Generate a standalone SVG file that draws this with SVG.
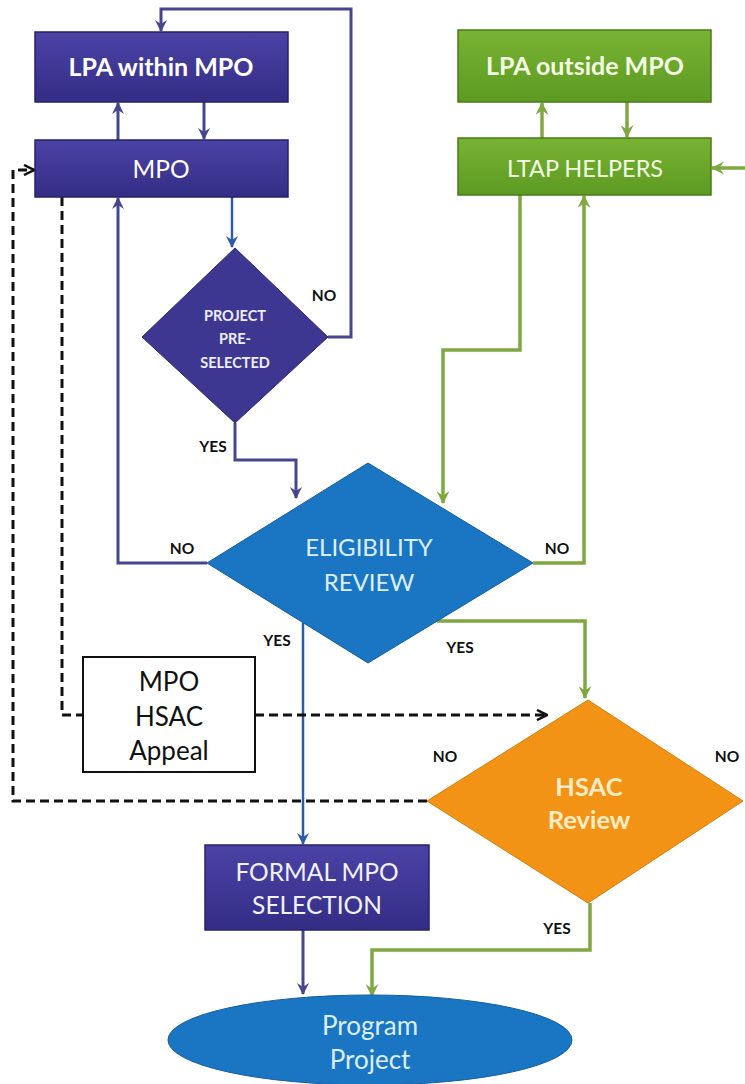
<svg xmlns="http://www.w3.org/2000/svg" width="745" height="1084" viewBox="0 0 745 1084">
<style>
.t{font-family:Lato,"Open Sans","Liberation Sans",sans-serif;text-anchor:middle}
.lbl{font-family:Lato,"Open Sans","Liberation Sans",sans-serif;font-size:15.5px;font-weight:700;fill:#111;text-anchor:middle}
.pur{fill:url(#gPur);stroke:#272266;stroke-width:1.5}
.grn{fill:url(#gGrn);stroke:#4a7a18;stroke-width:1.5}
.cp{fill:none;stroke:#46468e;stroke-width:3}
.cb{fill:none;stroke:#2f5aa8;stroke-width:2.5}
.cg{fill:none;stroke:#80a842;stroke-width:3.5}
.cd{fill:none;stroke:#111;stroke-width:3;stroke-dasharray:9 5}
</style>
<defs>
<linearGradient id="gPur" x1="0" y1="0" x2="0" y2="1"><stop offset="0" stop-color="#4a43a6"/><stop offset="1" stop-color="#342d85"/></linearGradient>
<linearGradient id="gGrn" x1="0" y1="0" x2="0" y2="1"><stop offset="0" stop-color="#78b332"/><stop offset="1" stop-color="#5c9a22"/></linearGradient>
<marker id="aP" viewBox="0 0 12 12" refX="11" refY="6" markerWidth="12" markerHeight="12" markerUnits="userSpaceOnUse" orient="auto"><path d="M0,0 L12,6 L0,12 L4,6 Z" fill="#46468e"/></marker>
<marker id="aB" viewBox="0 0 12 12" refX="11" refY="6" markerWidth="12" markerHeight="12" markerUnits="userSpaceOnUse" orient="auto"><path d="M0,0 L12,6 L0,12 L4,6 Z" fill="#2f5aa8"/></marker>
<marker id="aG" viewBox="0 0 12 12" refX="11" refY="6" markerWidth="13" markerHeight="13" markerUnits="userSpaceOnUse" orient="auto"><path d="M0,0 L12,6 L0,12 L4,6 Z" fill="#80a842"/></marker>
<marker id="aD" viewBox="0 0 12 12" refX="11" refY="6" markerWidth="12" markerHeight="12" markerUnits="userSpaceOnUse" orient="auto"><path d="M1,1 L11,6 L1,11" fill="none" stroke="#111" stroke-width="2.5"/></marker>
</defs>

<g id="connectors">
<polyline class="cp" points="328,337 351,337 351,9 161,9 161,31" marker-end="url(#aP)"/>
<line class="cp" x1="118" y1="140" x2="118" y2="103" marker-end="url(#aP)"/>
<line class="cp" x1="204" y1="102" x2="204" y2="139" marker-end="url(#aP)"/>
<line class="cb" x1="232" y1="197" x2="232" y2="247" marker-end="url(#aB)"/>
<polyline class="cp" points="235,423 235,460 296,460 296,498" marker-end="url(#aP)"/>
<polyline class="cp" points="207,563 118,563 118,198" marker-end="url(#aP)"/>
<line class="cb" x1="303" y1="623" x2="303" y2="844" marker-end="url(#aB)"/>
<line class="cp" x1="303" y1="930" x2="303" y2="994" marker-end="url(#aP)"/>
<line class="cg" x1="542" y1="138" x2="542" y2="103" marker-end="url(#aG)"/>
<line class="cg" x1="627" y1="102" x2="627" y2="137" marker-end="url(#aG)"/>
<line class="cg" x1="745" y1="168" x2="712" y2="168" marker-end="url(#aG)"/>
<polyline class="cg" points="520,195 520,350 443,350 443,503" marker-end="url(#aG)"/>
<polyline class="cg" points="533,563 584,563 584,196" marker-end="url(#aG)"/>
<polyline class="cg" points="437,621 585,621 585,698" marker-end="url(#aG)"/>
<polyline class="cg" points="590,903 590,950 372,950 372,996" marker-end="url(#aG)"/>
<polyline class="cd" points="62,197 62,715 83,715"/>
<line class="cd" x1="255" y1="715" x2="547" y2="715" marker-end="url(#aD)"/>
<polyline class="cd" points="427,801 13,801 13,170 34,170" marker-end="url(#aD)"/>
</g>

<g id="lpa-within">
<rect class="pur" x="35" y="32" width="253" height="70"/>
<text class="t" x="161" y="76" font-size="25" font-weight="700" fill="#fff">LPA within MPO</text>
</g>
<g id="mpo">
<rect class="pur" x="35" y="140" width="253" height="57"/>
<text class="t" x="161" y="178" font-size="24.5" fill="#fff">MPO</text>
</g>
<g id="lpa-outside">
<rect class="grn" x="458" y="30" width="253" height="72"/>
<text class="t" x="585" y="75" font-size="25" font-weight="700" fill="#f4fbe4">LPA outside MPO</text>
</g>
<g id="ltap">
<rect class="grn" x="458" y="138" width="253" height="57"/>
<text class="t" x="585" y="177" font-size="23.5" fill="#f4fbe4">LTAP HELPERS</text>
</g>
<g id="preselected">
<polygon points="235,248 328,337 235,423 142,337" fill="#3e3792" stroke="#2c2670" stroke-width="1"/>
<text class="t" font-size="14.5" font-weight="700" fill="#eeeeff"><tspan x="235" y="321">PROJECT</tspan><tspan x="235" y="344">PRE-</tspan><tspan x="235" y="368">SELECTED</tspan></text>
</g>
<g id="eligibility">
<polygon points="368,463 533,563 368,663 207,563" fill="#1a76c2" stroke="#145e9e" stroke-width="1"/>
<text class="t" font-size="24" fill="#dcefff"><tspan x="369" y="556">ELIGIBILITY</tspan><tspan x="369" y="591">REVIEW</tspan></text>
</g>
<g id="appeal">
<rect x="83" y="657" width="172" height="115" fill="#fff" stroke="#111" stroke-width="2"/>
<text class="t" font-size="26" fill="#111"><tspan x="169" y="691">MPO</tspan><tspan x="169" y="726">HSAC</tspan><tspan x="169" y="760">Appeal</tspan></text>
</g>
<g id="hsac">
<polygon points="588,700 743,801 588,903 427,801" fill="#f39316" stroke="#d97b05" stroke-width="1"/>
<text class="t" font-size="25.5" font-weight="700" fill="#ffecc4"><tspan x="589" y="796">HSAC</tspan><tspan x="589" y="829">Review</tspan></text>
</g>
<g id="formal">
<rect class="pur" x="205" y="845" width="224" height="85"/>
<text class="t" font-size="24.5" fill="#f2f2ff"><tspan x="317" y="881">FORMAL MPO</tspan><tspan x="317" y="914">SELECTION</tspan></text>
</g>
<g id="program">
<ellipse cx="370" cy="1040" rx="202" ry="45" fill="#1a76c2" stroke="#145e9e" stroke-width="1"/>
<text class="t" font-size="26" fill="#dcefff"><tspan x="370" y="1035">Program</tspan><tspan x="370" y="1069">Project</tspan></text>
</g>
<g id="labels">
<text class="lbl" x="324" y="301">NO</text>
<text class="lbl" x="213" y="452">YES</text>
<text class="lbl" x="182" y="554">NO</text>
<text class="lbl" x="557" y="554">NO</text>
<text class="lbl" x="277" y="646">YES</text>
<text class="lbl" x="460" y="653">YES</text>
<text class="lbl" x="445" y="762">NO</text>
<text class="lbl" x="727" y="762">NO</text>
<text class="lbl" x="557" y="934">YES</text>
</g>
</svg>
